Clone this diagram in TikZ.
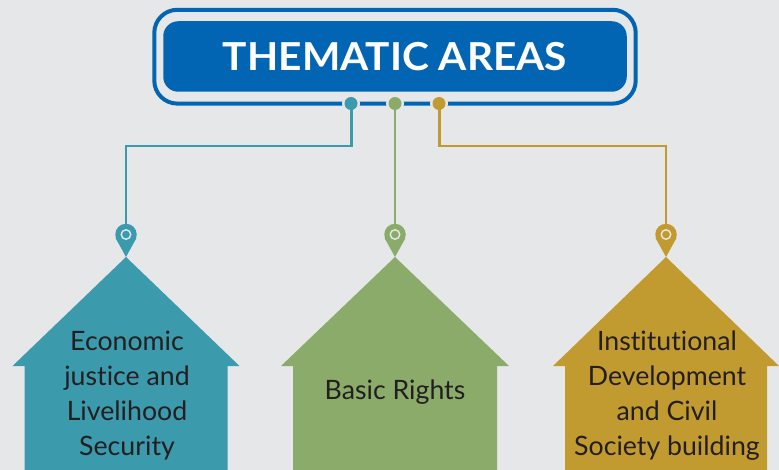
\documentclass[tikz,border=0pt]{standalone}
\usepackage{fontspec}
\setmainfont[Ligatures=CommonOff]{Lato}
\definecolor{bgc}{HTML}{E6E7E9}
\definecolor{bluec}{HTML}{0265B3}
\definecolor{tealc}{HTML}{3C9AAD}
\definecolor{greenc}{HTML}{8BAB6B}
\definecolor{goldc}{HTML}{C29B30}
\definecolor{inkc}{HTML}{231F20}
\tikzset{
  gapnode/.style={circle,inner sep=0pt,minimum size=18pt,fill=bgc},
  dotnode/.style={circle,inner sep=0pt,minimum size=13pt,fill=#1},
  wire/.style={draw=#1,line width=2.2pt},
  headnode/.style={circle,inner sep=0pt,minimum size=21.5pt,fill=#1},
  ringnode/.style={circle,inner sep=0pt,minimum size=9.5pt,draw=bgc,line width=1.4pt},
  labelnode/.style={align=center,text=inkc,font=\fontsize{26.7}{35}\selectfont,inner sep=0pt,anchor=center}
}
\newcommand{\housepin}[5]{% name, apex x, half eave, half wall, colour
  \fill[#5] (#2,257) -- (#2+#3,366) -- (#2+#4,366) -- (#2+#4,470) -- (#2-#4,470) -- (#2-#4,366) -- (#2-#3,366) -- cycle;
  \node[headnode=#5] (#1head) at (#2,234.5) {};
  \fill[#5] (#1head.200) -- (#2,257) -- (#1head.340) -- cycle;
  \node[ringnode] (#1ring) at (#2,234.5) {};
}
\begin{document}
\begin{tikzpicture}[x=1pt,y=-1pt]
\useasboundingbox (0,0) rectangle (779,470);
\fill[bgc] (0,0) rectangle (779,470);
\draw[bluec,line width=4pt,rounded corners=23pt] (154.3,9.8) rectangle (635.7,103.6);
\node[fill=bluec,rounded corners=15pt,minimum width=463.5pt,minimum height=70.5pt,inner sep=0pt,
  text=white,font=\fontsize{38.5}{38.5}\selectfont\bfseries] (title) at (395,56.5) {\scalebox{1.055}[1]{THEMATIC AREAS}};
\housepin{a}{126}{113.5}{101.5}{tealc}
\housepin{b}{395}{114}{102}{greenc}
\housepin{c}{666}{113}{101}{goldc}
\node[gapnode] (ga) at (351,103.5) {};
\node[gapnode] (gb) at (395,103.5) {};
\node[gapnode] (gc) at (439,103.5) {};
\node[dotnode=tealc] (da) at (351,103.5) {};
\node[dotnode=greenc] (db) at (395,103.5) {};
\node[dotnode=goldc] (dc) at (439,103.5) {};
\coordinate (ma) at (351.5,146);
\coordinate (mc) at (439.5,146);
\draw[wire=tealc] (da.south) -- (da.south -| ma) -- (ma) -- (ma -| ahead) -- (ahead.north);
\draw[wire=greenc] (db.south) -- (bhead.north);
\draw[wire=goldc] (dc.south) -- (dc.south -| mc) -- (mc) -- (mc -| chead) -- (chead.north);
\node[labelnode] (ta) at (127,395.5) {Economic\\justice and\\Livelihood\\Security};
\node[labelnode] (tb) at (395,392) {Basic Rights};
\node[labelnode] (tc) at (667,395.5) {Institutional\\Development\\and Civil\\Society building};
\end{tikzpicture}
\end{document}
